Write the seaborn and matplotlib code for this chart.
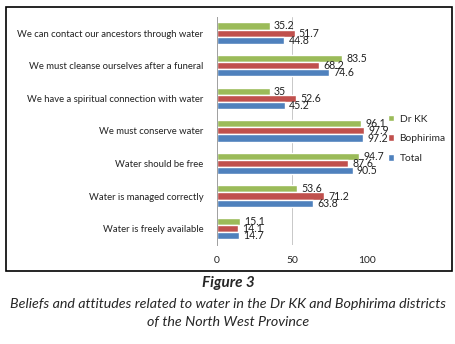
import numpy as np
import pandas as pd
import seaborn as sns
import matplotlib.pyplot as plt
from matplotlib.patches import Rectangle

# data
statements = [
    'We can contact our ancestors through water',
    'We must cleanse ourselves after a funeral',
    'We have a spiritual connection with water',
    'We must conserve water',
    'Water should be free',
    'Water is managed correctly',
    'Water is freely available',
]
dr_kk = [35.2, 83.5, 35, 96.1, 94.7, 53.6, 15.1]
bophirima = [51.7, 68.2, 52.6, 97.9, 87.6, 71.2, 14.1]
total = [44.8, 74.6, 45.2, 97.2, 90.5, 63.8, 14.7]
groups = ['Dr KK', 'Bophirima', 'Total']
colors = ['#9BBB59', '#C0504D', '#4F81BD']


def main():
  sns.set_style('white')
  plt.rcParams['font.family'] = ['Lato', 'DejaVu Sans']

  df = pd.DataFrame({
    'statement': statements * 3,
    'group': [g for g in groups for _ in statements],
    'value': dr_kk + bophirima + total,
  })

  fig = plt.figure(figsize=(4.56, 3.44), dpi=100)
  ax = fig.add_axes([0.476, 0.288, 0.329, 0.663])

  sns.barplot(data=df, y='statement', x='value', hue='group', hue_order=groups,
              palette=colors, orient='h', width=0.66, gap=0, saturation=1,
              ax=ax, legend=True)

  labels_txt = {'Dr KK': dr_kk, 'Bophirima': bophirima, 'Total': total}
  for cont, g in zip(ax.containers, groups):
    lab = [('%g' % v) for v in labels_txt[g]]
    ax.bar_label(cont, labels=lab, padding=3, fontsize=7.6, color='#222222')

  ax.set_xlim(0, 100)
  ax.set_xticks([0, 50, 100])
  ax.tick_params(axis='x', labelsize=7.4, length=0, pad=8, colors='#222222')
  ax.tick_params(axis='y', labelsize=6.8, length=0, pad=10, colors='#222222')
  ax.set_xlabel('')
  ax.set_ylabel('')
  ax.grid(axis='x', color='#C8C8C8', linewidth=0.7)
  ax.set_axisbelow(True)
  for s in ['top', 'right', 'bottom']:
    ax.spines[s].set_visible(False)
  ax.spines['left'].set_color('#A0A0A0')
  ax.spines['left'].set_linewidth(0.7)
  ax.set_yticks(np.arange(-0.5, len(statements), 1), minor=True)
  ax.tick_params(axis='y', which='minor', length=3, color='#A0A0A0', width=0.7)

  ax.legend(loc='center left', bbox_to_anchor=(1.11, 0.465), frameon=False,
            fontsize=7.4, handlelength=0.65, handleheight=0.65, handletextpad=0.5,
            labelspacing=1.05, borderaxespad=0)

  fig.patches.append(Rectangle((6 / 456, 1 - 271 / 344), 446 / 456, 264 / 344,
                               transform=fig.transFigure, fill=False,
                               edgecolor='black', linewidth=1.2))

  fig.text(0.5, 1 - 283 / 344, 'Figure 3', ha='center', va='center',
           fontsize=11, fontweight='bold', fontstyle='italic')
  fig.text(0.5, 1 - 304 / 344,
           'Beliefs and attitudes related to water in the Dr KK and Bophirima districts',
           ha='center', va='center', fontsize=10.3, fontstyle='italic')
  fig.text(0.5, 1 - 322 / 344, 'of the North West Province', ha='center',
           va='center', fontsize=10.3, fontstyle='italic')

  fig.savefig('out.png', dpi=100)


if __name__ == '__main__':
  main()
